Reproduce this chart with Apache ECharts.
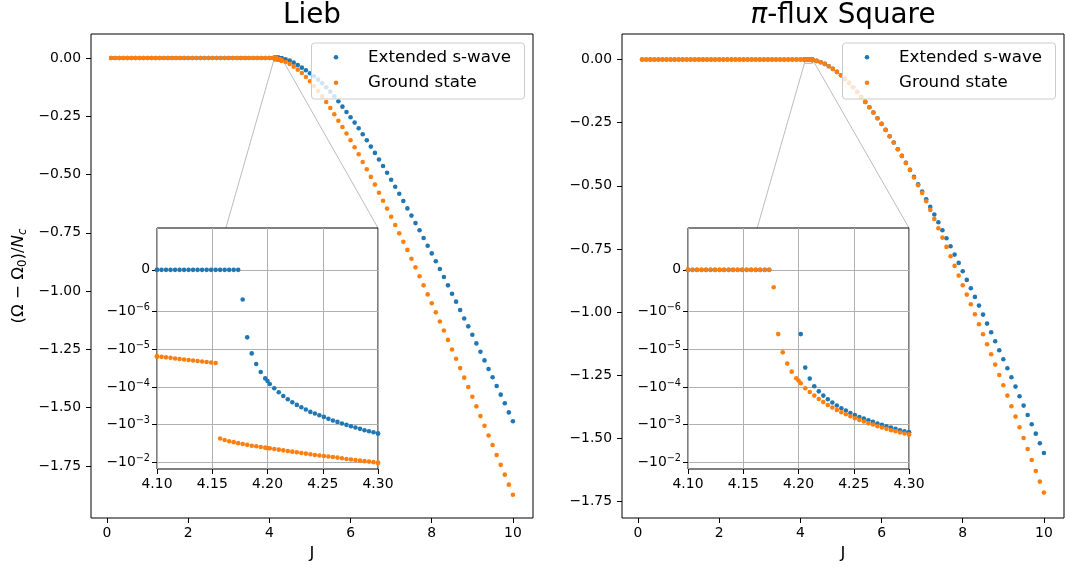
<!DOCTYPE html>
<html>
<head>
<meta charset="utf-8">
<script src="https://cdn.jsdelivr.net/npm/echarts@6/dist/echarts.min.js"></script>
<style>
  html, body { margin: 0; padding: 0; background: #fff; }
  #chart { width: 1065px; height: 572px; }
</style>
</head>
<body>
<div id="chart"></div>
<script>
// ---- coupling grid (coarse sweep) ----
const jCoarse = [
  0.1, 0.2, 0.3, 0.4, 0.5, 0.6, 0.7, 0.8, 0.9, 1.0,
  1.1, 1.2, 1.3, 1.4, 1.5, 1.6, 1.7, 1.8, 1.9, 2.0,
  2.1, 2.2, 2.3, 2.4, 2.5, 2.6, 2.7, 2.8, 2.9, 3.0,
  3.1, 3.2, 3.3, 3.4, 3.5, 3.6, 3.7, 3.8, 3.9, 4.0,
  4.1, 4.2, 4.3, 4.4, 4.5, 4.6, 4.7, 4.8, 4.9, 5.0,
  5.1, 5.2, 5.3, 5.4, 5.5, 5.6, 5.7, 5.8, 5.9, 6.0,
  6.1, 6.2, 6.3, 6.4, 6.5, 6.6, 6.7, 6.8, 6.9, 7.0,
  7.1, 7.2, 7.3, 7.4, 7.5, 7.6, 7.7, 7.8, 7.9, 8.0,
  8.1, 8.2, 8.3, 8.4, 8.5, 8.6, 8.7, 8.8, 8.9, 9.0,
  9.1, 9.2, 9.3, 9.4, 9.5, 9.6, 9.7, 9.8, 9.9, 10.0
];

// ---- dense sweep around the transition ----
const jFine = [
  4.1, 4.10408, 4.10816, 4.11224, 4.11633, 4.12041, 4.12449, 4.12857, 4.13265, 4.13673,
  4.14082, 4.1449, 4.14898, 4.15306, 4.15714, 4.16122, 4.16531, 4.16939, 4.17347, 4.17755,
  4.18163, 4.18571, 4.1898, 4.19388, 4.19796, 4.20204, 4.20612, 4.2102, 4.21429, 4.21837,
  4.22245, 4.22653, 4.23061, 4.23469, 4.23878, 4.24286, 4.24694, 4.25102, 4.2551, 4.25918,
  4.26327, 4.26735, 4.27143, 4.27551, 4.27959, 4.28367, 4.28776, 4.29184, 4.29592, 4.3
];

// ---- Lieb lattice: (Omega - Omega0)/Nc ----
const liebSwaveCoarse = [
  0, 0, 0, 0, 0, 0, 0, 0, 0, 0,
  0, 0, 0, 0, 0, 0, 0, 0, 0, 0,
  0, 0, 0, 0, 0, 0, 0, 0, 0, 0,
  0, 0, 0, 0, 0, 0, 0, 0, 0, 0,
  0, -6.9e-5, -1.71e-3, -0.0056, -0.0113, -0.0199, -0.0299, -0.0413, -0.0528, -0.0656,
  -0.0785, -0.0928, -0.1085, -0.1257, -0.1443, -0.1643, -0.1857, -0.2086, -0.2315, -0.2543,
  -0.277, -0.301, -0.327, -0.353, -0.380, -0.407, -0.435, -0.463, -0.492, -0.522,
  -0.552, -0.582, -0.613, -0.645, -0.676, -0.708, -0.739, -0.772, -0.805, -0.838,
  -0.872, -0.905, -0.939, -0.975, -1.011, -1.045, -1.081, -1.117, -1.151, -1.187,
  -1.224, -1.260, -1.297, -1.334, -1.369, -1.407, -1.444, -1.481, -1.520, -1.558
];
const liebGroundCoarse = [
  0, 0, 0, 0, 0, 0, 0, 0, 0, 0,
  0, 0, 0, 0, 0, 0, 0, 0, 0, 0,
  0, 0, 0, 0, 0, 0, 0, 0, 0, 0,
  0, 0, 0, 0, 0, 0, 0, 0, 0, 0,
  -1.535e-5, -4.2e-3, -1.03e-2, -0.0170, -0.0256, -0.0370, -0.0499, -0.0642, -0.0814, -0.0999,
  -0.1200, -0.1414, -0.1643, -0.1885, -0.2143, -0.241, -0.269, -0.296, -0.324, -0.353,
  -0.383, -0.413, -0.446, -0.477, -0.510, -0.543, -0.578, -0.612, -0.646, -0.681,
  -0.716, -0.752, -0.788, -0.823, -0.861, -0.898, -0.936, -0.975, -1.014, -1.052,
  -1.091, -1.130, -1.169, -1.209, -1.250, -1.290, -1.330, -1.371, -1.411, -1.453,
  -1.494, -1.536, -1.577, -1.619, -1.660, -1.703, -1.745, -1.787, -1.830, -1.873
];
const liebSwaveFine = [
  0, 0, 0, 0, 0, 0, 0, 0, 0, 0,
  0, 0, 0, 0, 0, 0, 0, 0, 0, -7.1e-7,
  -4.8e-6, -1.28e-5, -2.45e-5, -4.0e-5, -5.9e-5, -8.3e-5, -1.08e-4, -1.38e-4, -1.73e-4, -2.11e-4,
  -2.54e-4, -2.98e-4, -3.44e-4, -3.96e-4, -4.57e-4, -5.06e-4, -5.61e-4, -6.21e-4, -7.0e-4, -7.74e-4,
  -8.43e-4, -9.3e-4, -1.01e-3, -1.10e-3, -1.19e-3, -1.29e-3, -1.40e-3, -1.49e-3, -1.58e-3, -1.71e-3
];
const liebGroundFine = [
  -1.535e-5, -1.58e-5, -1.63e-5, -1.68e-5, -1.74e-5, -1.80e-5, -1.85e-5, -1.91e-5, -1.97e-5, -2.03e-5,
  -2.10e-5, -2.17e-5, -2.24e-5, -2.31e-5, -2.33e-3, -2.55e-3, -2.74e-3, -2.91e-3, -3.09e-3, -3.25e-3,
  -3.43e-3, -3.61e-3, -3.75e-3, -3.91e-3, -4.07e-3, -4.24e-3, -4.42e-3, -4.60e-3, -4.79e-3, -4.99e-3,
  -5.19e-3, -5.41e-3, -5.64e-3, -5.86e-3, -6.11e-3, -6.37e-3, -6.56e-3, -6.76e-3, -6.97e-3, -7.19e-3,
  -7.48e-3, -7.80e-3, -8.13e-3, -8.37e-3, -8.63e-3, -8.99e-3, -9.27e-3, -9.55e-3, -9.86e-3, -1.03e-2
];

// ---- pi-flux square lattice: (Omega - Omega0)/Nc ----
const piSwaveCoarse = [
  0, 0, 0, 0, 0, 0, 0, 0, 0, 0,
  0, 0, 0, 0, 0, 0, 0, 0, 0, 0,
  0, 0, 0, 0, 0, 0, 0, 0, 0, 0,
  0, 0, 0, 0, 0, 0, 0, 0, 0, 0,
  0, null, -1.58e-3, -0.0054, -0.0107, -0.0173, -0.0265, -0.0371, -0.0490, -0.0622,
  -0.0767, -0.0925, -0.1097, -0.1282, -0.1480, -0.1677, -0.1889, -0.2100, -0.2324, -0.2549,
  -0.2786, -0.3037, -0.3288, -0.3552, -0.3816, -0.4093, -0.4370, -0.4647, -0.4937, -0.5228,
  -0.5531, -0.5835, -0.6138, -0.6442, -0.6759, -0.7075, -0.7392, -0.7722, -0.8052, -0.8382,
  -0.8725, -0.9055, -0.9398, -0.9741, -1.0098, -1.0454, -1.0797, -1.1154, -1.1510, -1.1866,
  -1.2223, -1.2579, -1.2949, -1.3331, -1.3701, -1.4070, -1.4440, -1.4810, -1.5192, -1.5575
];
const piGroundCoarse = [
  0, 0, 0, 0, 0, 0, 0, 0, 0, 0,
  0, 0, 0, 0, 0, 0, 0, 0, 0, 0,
  0, 0, 0, 0, 0, 0, 0, 0, 0, 0,
  0, 0, 0, 0, 0, 0, 0, 0, 0, 0,
  0, -6.75e-5, -1.82e-3, -0.0054, -0.0107, -0.0173, -0.0265, -0.0371, -0.0490, -0.0622,
  -0.0767, -0.0925, -0.1097, -0.1282, -0.1480, -0.1677, -0.1889, -0.2100, -0.2324, -0.2549,
  -0.2786, -0.3037, -0.3288, -0.3552, -0.3816, -0.4093, -0.4370, -0.4673, -0.4977, -0.5281,
  -0.5610, -0.5953, -0.6310, -0.6679, -0.7049, -0.7418, -0.7788, -0.8171, -0.8554, -0.8936,
  -0.9306, -0.9689, -1.0085, -1.0481, -1.0876, -1.1272, -1.1668, -1.2077, -1.2487, -1.2896,
  -1.3305, -1.3727, -1.4136, -1.4559, -1.4981, -1.5417, -1.5852, -1.6288, -1.6710, -1.7145
];
const piSwaveFine = [
  0, 0, 0, 0, 0, 0, 0, 0, 0, 0,
  0, 0, 0, 0, 0, 0, 0, 0, 0, null,
  null, null, null, null, null, -3.93e-6, -3.05e-5, -5.98e-5, -9.55e-5, -1.30e-4,
  -1.69e-4, -2.11e-4, -2.58e-4, -3.10e-4, -3.66e-4, -4.21e-4, -4.88e-4, -5.51e-4, -6.22e-4, -6.85e-4,
  -7.60e-4, -8.43e-4, -9.29e-4, -1.01e-3, -1.10e-3, -1.19e-3, -1.29e-3, -1.40e-3, -1.49e-3, -1.58e-3
];
const piGroundFine = [
  0, 0, 0, 0, 0, 0, 0, 0, 0, 0,
  0, 0, 0, 0, 0, 0, 0, 0, 0, -4.15e-7,
  -3.93e-6, -1.20e-5, -2.39e-5, -3.90e-5, -5.86e-5, -7.96e-5, -1.08e-4, -1.35e-4, -1.69e-4, -2.07e-4,
  -2.49e-4, -2.99e-4, -3.51e-4, -4.06e-4, -4.67e-4, -5.27e-4, -5.96e-4, -6.73e-4, -7.46e-4, -8.22e-4,
  -9.14e-4, -9.89e-4, -1.10e-3, -1.19e-3, -1.29e-3, -1.40e-3, -1.49e-3, -1.61e-3, -1.71e-3, -1.82e-3
];

// ---- ticks ----
const mainXTicks = [0, 2, 4, 6, 8, 10];
const mainYTicks = [0, -0.25, -0.5, -0.75, -1.0, -1.25, -1.5, -1.75];
const insetXTicks = [4.10, 4.15, 4.20, 4.25, 4.30];
const insetYTicks = [0, -1e-6, -1e-5, -1e-4, -1e-3, -1e-2];
const insetYLabels = ['0', '−10{s|−6}', '−10{s|−5}', '−10{s|−4}', '−10{s|−3}', '−10{s|−2}'];

const seriesNames = ['Extended s-wave', 'Ground state'];
const panelTitles = ['Lieb', '{it|π}-flux Square'];

// ---- view windows ----
const zoomX = [4.1, 4.3];
const zoomY = [-0.015, 1e-6];

const BLUE = '#1f77b4', ORANGE = '#ff7f0e';
const FONT = "'DejaVu Sans', sans-serif";

// symmetric log transform (linthresh 1e-6, linscale 1, base 10)
const LINTHRESH = 1e-6;
const LINSCALE = 1 / (1 - 1 / 10);
function symlog(v) {
  const a = Math.abs(v);
  if (a <= LINTHRESH) return (v / LINTHRESH) * LINSCALE;
  return Math.sign(v) * (LINSCALE + Math.log10(a / LINTHRESH));
}

function pairs(js, vs, tf) {
  const out = [];
  js.forEach((j, i) => {
    const v = vs[i];
    if (v !== null && v !== undefined) out.push([j, tf ? tf(v) : v]);
  });
  return out;
}
function merged(coarse, fine, tf) {
  return pairs(jCoarse, coarse, tf).concat(pairs(jFine, fine, tf));
}

function mainTickLabel(v) {
  const s = Math.abs(v).toFixed(2);
  return v < -1e-9 ? '−' + s : s;
}
function insetYLabel(v) {
  for (let i = 0; i < insetYTicks.length; i++) {
    if (Math.abs(symlog(insetYTicks[i]) - v) < 1e-6) return insetYLabels[i];
  }
  return '';
}

const tickStyle = { show: true, length: 5, inside: false, lineStyle: { color: '#000', width: 1 } };
const labelStyle = { color: '#000', fontSize: 13.9, fontFamily: FONT };
const noLine = { show: false, onZero: false };

function mainXAxis(grid) {
  return {
    type: 'value', gridIndex: grid, position: 'bottom', min: -0.395, max: 10.495,
    axisLine: noLine, splitLine: { show: false },
    axisTick: Object.assign({ customValues: mainXTicks }, tickStyle),
    axisLabel: Object.assign({ customValues: mainXTicks, margin: 8, formatter: v => String(Math.round(v)) }, labelStyle)
  };
}
function mainYAxis(grid, min, max) {
  return {
    type: 'value', gridIndex: grid, position: 'left', min: min, max: max,
    axisLine: noLine, splitLine: { show: false },
    axisTick: Object.assign({ customValues: mainYTicks }, tickStyle),
    axisLabel: Object.assign({ customValues: mainYTicks, margin: 10, formatter: mainTickLabel }, labelStyle)
  };
}
function insetXAxis(grid) {
  return {
    type: 'value', gridIndex: grid, position: 'bottom', min: zoomX[0], max: zoomX[1], zlevel: 1,
    axisLine: noLine,
    splitLine: { show: true, lineStyle: { color: '#b0b0b0', width: 1 } },
    axisTick: Object.assign({ customValues: insetXTicks }, tickStyle),
    axisLabel: Object.assign({ customValues: insetXTicks, margin: 8, formatter: v => v.toFixed(2) }, labelStyle)
  };
}
function insetYAxis(grid) {
  const vals = insetYTicks.map(symlog);
  return {
    type: 'value', gridIndex: grid, position: 'left', min: symlog(zoomY[0]), max: symlog(zoomY[1]), zlevel: 1,
    axisLine: noLine,
    splitLine: { show: true, lineStyle: { color: '#b0b0b0', width: 1 } },
    axisTick: Object.assign({ customValues: vals }, tickStyle),
    axisLabel: Object.assign({
      customValues: vals, margin: 7, formatter: insetYLabel,
      lineHeight: 18,
      rich: {
        s: { fontSize: 9.7, fontFamily: FONT, color: '#000', lineHeight: 9, verticalAlign: 'top' }
      }
    }, labelStyle)
  };
}

function scatter(name, xi, yi, data, color, extra) {
  return Object.assign({
    type: 'scatter', name: name, xAxisIndex: xi, yAxisIndex: yi, data: data,
    symbol: 'circle', symbolSize: 4.6, itemStyle: { color: color, opacity: 1 },
    silent: true, animation: false
  }, extra || {});
}

const zoomRect = {
  silent: true,
  itemStyle: { color: 'rgba(0,0,0,0)', borderColor: '#b3b3b3', borderWidth: 1 },
  data: [[{ coord: [zoomX[0], zoomY[1]] }, { coord: [zoomX[1], zoomY[0]] }]]
};

const gridBase = { show: true, borderColor: '#000', borderWidth: 1, containLabel: false, outerBoundsMode: 'none' };

const chart = echarts.init(document.getElementById('chart'), null, { renderer: 'canvas' });

chart.setOption({
  animation: false,
  backgroundColor: '#fff',
  grid: [
    Object.assign({ left: 91, top: 34, width: 442, height: 484, backgroundColor: 'transparent' }, gridBase),
    Object.assign({ left: 622, top: 34, width: 442, height: 484, backgroundColor: 'transparent' }, gridBase),
    Object.assign({ left: 157, top: 228, width: 221, height: 241, backgroundColor: '#fff', zlevel: 1 }, gridBase),
    Object.assign({ left: 688, top: 228, width: 221, height: 241, backgroundColor: '#fff', zlevel: 1 }, gridBase)
  ],
  xAxis: [mainXAxis(0), mainXAxis(1), insetXAxis(2), insetXAxis(3)],
  yAxis: [mainYAxis(0, -1.973, 0.103), mainYAxis(1, -1.815, 0.101), insetYAxis(2), insetYAxis(3)],
  series: [
    scatter(seriesNames[0], 0, 0, merged(liebSwaveCoarse, liebSwaveFine), BLUE),
    scatter(seriesNames[1], 0, 0, merged(liebGroundCoarse, liebGroundFine), ORANGE, { markArea: zoomRect }),
    scatter(seriesNames[0], 1, 1, merged(piSwaveCoarse, piSwaveFine), BLUE),
    scatter(seriesNames[1], 1, 1, merged(piGroundCoarse, piGroundFine), ORANGE, { markArea: zoomRect }),
    scatter(seriesNames[0], 2, 2, merged(liebSwaveCoarse, liebSwaveFine, symlog), BLUE, { zlevel: 1 }),
    scatter(seriesNames[1], 2, 2, merged(liebGroundCoarse, liebGroundFine, symlog), ORANGE, { zlevel: 1 }),
    scatter(seriesNames[0], 3, 3, merged(piSwaveCoarse, piSwaveFine, symlog), BLUE, { zlevel: 1 }),
    scatter(seriesNames[1], 3, 3, merged(piGroundCoarse, piGroundFine, symlog), ORANGE, { zlevel: 1 })
  ]
});

// connectors from each zoom box to its inset
function connectors(mainGrid, insetGrid) {
  const a1 = chart.convertToPixel({ gridIndex: mainGrid }, [zoomX[0], zoomY[0]]);
  const b1 = chart.convertToPixel({ gridIndex: insetGrid }, [zoomX[0], symlog(zoomY[0])]);
  const a2 = chart.convertToPixel({ gridIndex: mainGrid }, [zoomX[1], zoomY[1]]);
  const b2 = chart.convertToPixel({ gridIndex: insetGrid }, [zoomX[1], symlog(zoomY[1])]);
  const st = { stroke: '#bdbdbd', lineWidth: 1 };
  return [
    { type: 'line', silent: true, z: 1, shape: { x1: a1[0], y1: a1[1], x2: b1[0], y2: b1[1] }, style: st },
    { type: 'line', silent: true, z: 1, shape: { x1: a2[0], y1: a2[1], x2: b2[0], y2: b2[1] }, style: st }
  ];
}
function centerX(grid) {
  const l = chart.convertToPixel({ gridIndex: grid }, [-0.395, 0])[0];
  const r = chart.convertToPixel({ gridIndex: grid }, [10.495, 0])[0];
  return (l + r) / 2;
}

// legend box in the upper right corner of a panel
function legendBox(grid) {
  const right = chart.convertToPixel({ gridIndex: grid }, [10.495, 0])[0] - 8.5;
  const left = right - 213;
  const top = 43, h = 56;
  const rows = [{ name: seriesNames[0], color: BLUE, y: 57.3 }, { name: seriesNames[1], color: ORANGE, y: 82.7 }];
  const out = [{
    type: 'rect', silent: true, z: 50,
    shape: { x: left, y: top, width: 213, height: h, r: 3 },
    style: { fill: 'rgba(255,255,255,0.8)', stroke: '#cccccc', lineWidth: 1 }
  }];
  rows.forEach(r => {
    out.push({ type: 'circle', silent: true, z: 51, shape: { cx: left + 24.5, cy: r.y, r: 2.3 }, style: { fill: r.color } });
    out.push({ type: 'text', silent: true, z: 51, x: left + 56.5, y: r.y,
      style: { text: r.name, fontSize: 16.67, fontFamily: FONT, fill: '#000', align: 'left', verticalAlign: 'middle' } });
  });
  return out;
}

const titleRich = { it: { fontStyle: 'italic', fontSize: 27.8, fontFamily: FONT, fill: '#000' } };
const graphics = [].concat(
  connectors(0, 2),
  connectors(1, 3),
  legendBox(0),
  legendBox(1),
  [
    { type: 'text', x: centerX(0), y: 16, silent: true,
      style: { text: panelTitles[0], fontSize: 27.8, fontFamily: FONT, fill: '#000', align: 'center', verticalAlign: 'middle' } },
    { type: 'text', x: centerX(1), y: 16, silent: true,
      style: { text: panelTitles[1], rich: titleRich, fontSize: 27.8, fontFamily: FONT, fill: '#000', align: 'center', verticalAlign: 'middle' } },
    { type: 'text', x: centerX(0), y: 554, silent: true,
      style: { text: 'J', fontSize: 16.67, fontFamily: FONT, fill: '#000', align: 'center', verticalAlign: 'middle' } },
    { type: 'text', x: centerX(1), y: 554, silent: true,
      style: { text: 'J', fontSize: 16.67, fontFamily: FONT, fill: '#000', align: 'center', verticalAlign: 'middle' } },
    { type: 'text', x: 19, y: 276, rotation: Math.PI / 2, silent: true,
      style: {
        text: '(Ω − Ω{sub|0})/{it|N}{subit|c}',
        fontSize: 16.67, fontFamily: FONT, fill: '#000', align: 'center', verticalAlign: 'middle',
        rich: {
          sub: { fontSize: 11.7, fontFamily: FONT, fill: '#000', lineHeight: 10, verticalAlign: 'bottom' },
          it: { fontSize: 16.67, fontFamily: FONT, fontStyle: 'italic', fill: '#000', lineHeight: 20 },
          subit: { fontSize: 11.7, fontFamily: FONT, fontStyle: 'italic', fill: '#000', lineHeight: 10, verticalAlign: 'bottom' }
        }
      } }
  ]
);
chart.setOption({ graphic: graphics });
</script>
</body>
</html>
